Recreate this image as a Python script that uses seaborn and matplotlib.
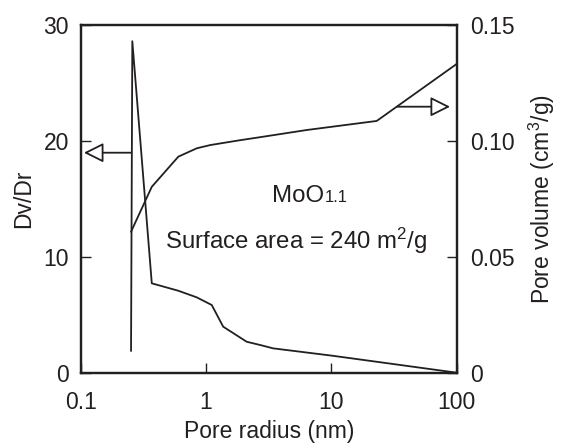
import numpy as np
import pandas as pd
import matplotlib
matplotlib.use('Agg')
import matplotlib.pyplot as plt
import seaborn as sns

# Dv/Dr distribution (left axis)
radius_dist = [0.252, 0.258, 0.369, 0.601, 0.843, 1.11, 1.37, 2.11, 2.70, 3.43, 10.1, 100]
dvdr = [1.87, 28.6, 7.71, 7.07, 6.5, 5.84, 3.97, 2.67, 2.39, 2.1, 1.47, 0.0]

# cumulative pore volume (right axis)
radius_vol = [0.252, 0.369, 0.601, 0.843, 1.08, 1.87, 2.70, 6.37, 23.0, 100]
pore_vol = [0.0608, 0.0802, 0.0932, 0.0968, 0.0982, 0.1003, 0.1016, 0.1047, 0.1086, 0.1332]

xticks = [0.1, 1, 10, 100]
xtick_labels = ['0.1', '1', '10', '100']
left_ticks = [0, 10, 20, 30]
right_ticks = [0, 0.05, 0.10, 0.15]
right_labels = ['0', '0.05', '0.10', '0.15']

sns.set_style('ticks', {'xtick.direction': 'in', 'ytick.direction': 'in'})
plt.rcParams['font.family'] = ['Liberation Sans', 'DejaVu Sans']
plt.rcParams['mathtext.fontset'] = 'custom'
plt.rcParams['mathtext.rm'] = 'Liberation Sans'
plt.rcParams['mathtext.it'] = 'Liberation Sans:italic'

fs = 16.5
fs_note = 17.3
line_col = '#231f20'

df_dist = pd.DataFrame({'r': radius_dist, 'dvdr': dvdr})
df_vol = pd.DataFrame({'r': radius_vol, 'v': pore_vol})

fig = plt.figure(figsize=(5.61, 4.43), dpi=100)
ax = fig.add_axes([0.1439, 0.1587, 0.6702, 0.7849])
ax2 = ax.twinx()

sns.lineplot(data=df_dist, x='r', y='dvdr', ax=ax, color=line_col, lw=1.3,
             sort=False, estimator=None)
sns.lineplot(data=df_vol, x='r', y='v', ax=ax2, color=line_col, lw=1.3,
             sort=False, estimator=None)

ax.set_xscale('log')
ax.set_xlim(0.1, 100)
ax.set_ylim(0, 30)
ax2.set_ylim(0, 0.15)
ax.set_xticks(xticks)
ax.set_xticklabels(xtick_labels)
ax.xaxis.set_minor_locator(matplotlib.ticker.NullLocator())
ax.set_yticks(left_ticks)
ax2.set_yticks(right_ticks)
ax2.set_yticklabels(right_labels)

for a in (ax, ax2):
    a.tick_params(labelsize=fs, length=7.5, width=1, colors=line_col)
    for s in a.spines.values():
        s.set_linewidth(1.6)
        s.set_color(line_col)
        s.set_visible(True)
ax.tick_params(axis='x', pad=13)
ax.tick_params(axis='y', pad=8.5)
ax2.tick_params(axis='y', pad=10)

ax.set_xlabel('Pore radius (nm)', fontsize=fs, color=line_col)
ax.xaxis.set_label_coords(0.5, -0.137)
ax.set_ylabel('Dv/Dr', fontsize=fs, color=line_col)
ax.yaxis.set_label_coords(-0.122, 0.5)
ax2.set_ylabel('Pore volume (cm$^3$/g)', fontsize=fs, color=line_col)
ax2.yaxis.set_label_coords(1.187, 0.5)

arrow = dict(arrowstyle='-|>,head_length=1.2,head_width=0.6', fc='white',
             ec=line_col, lw=1.3, shrinkA=0, shrinkB=0, mutation_scale=10)
ax.annotate('', xy=(0.106, 18.98), xytext=(0.252, 18.98), arrowprops=arrow)
ax.annotate('', xy=(88.5, 22.95), xytext=(33.3, 22.95), arrowprops=arrow)

ax.text(8.75, 14.75, 'MoO', fontsize=fs_note, ha='right', va='baseline', color=line_col)
ax.text(8.9, 14.75, '1.1', fontsize=12, ha='left', va='baseline', color=line_col)
ax.text(5.26, 10.67, 'Surface area = 240 m$^2$/g', fontsize=fs_note, ha='center',
        va='baseline', color=line_col)

fig.savefig('out.png', dpi=100)
